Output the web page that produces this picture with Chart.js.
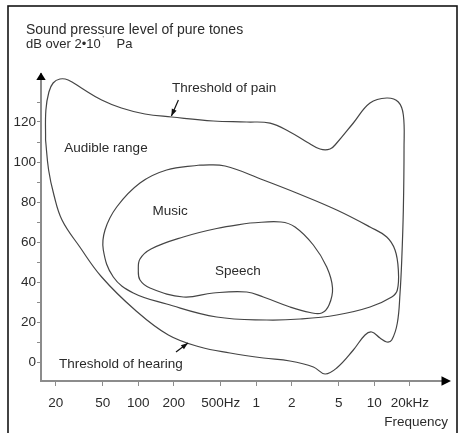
<!DOCTYPE html>
<html>
<head>
<meta charset="utf-8">
<script src="https://cdn.jsdelivr.net/npm/chart.js@4.4.0/dist/chart.umd.min.js"></script>
<style>
  html, body { margin: 0; padding: 0; background: #fff; }
  #wrap { position: relative; width: 462px; height: 433px; }
</style>
</head>
<body>
<div id="wrap"><canvas id="chart"></canvas></div>
<script>
// frequency axis (Hz) and its labels
let freqTicks = [20, 50, 100, 200, 500, 1000, 2000, 5000, 10000, 20000];
let freqLabels = ['20', '50', '100', '200', '500Hz', '1', '2', '5', '10', '20kHz'];
// level axis (dB), every 10 with a label every 20
let levelTicks = [0, 10, 20, 30, 40, 50, 60, 70, 80, 90, 100, 110, 120, 130];

// audible range: threshold of pain on top, threshold of hearing underneath
let audibleHz = [16.4, 16.5, 17.5, 19.0, 21.7, 25.5, 33, 49, 72, 114, 192, 433, 830, 1310, 1930, 2680, 3470, 4220, 4810, 6650, 9200, 12760, 16000, 17640, 17880, 17640, 17100, 16540, 15690, 14070, 12760, 11190, 9520, 8350, 6650, 4810, 3830, 3050, 1930, 1150, 600, 334, 180, 94, 49, 32, 22.6, 19.3, 17.4];
let audibleDb = [111, 126, 135, 139.5, 141.5, 141, 137, 131, 127, 124, 122.5, 120.5, 120, 119.4, 115, 110, 106.5, 106.5, 109.5, 119.5, 129.5, 132, 130, 123.5, 107, 76, 51, 34.5, 19.5, 11, 10, 12, 15, 13.5, 6, -3, -6, -2.5, 0.5, 2, 4.5, 7.5, 13.5, 26, 42.5, 57.5, 71, 83.5, 96];

let musicHz = [334, 544, 1148, 2200, 4810, 9210, 12760, 15000, 16000, 15690, 14070, 9210, 4810, 2350, 1230, 462, 174, 90.8, 61.5, 50.6, 52.3, 65.7, 103.5, 174];
let musicDb = [98.5, 98, 91, 84.5, 76, 67.5, 62.5, 56, 46, 36, 32.5, 27.5, 23.5, 21.5, 21, 22.5, 29, 34.5, 42.5, 56, 66, 77.5, 89.5, 96];

let speechHz = [886, 1622, 2132, 3046, 3957, 4430, 4138, 3588, 2856, 1933, 1148, 831, 433, 241, 125.8, 103.5, 100.2, 103.5, 128.3, 241, 462];
let speechDb = [69.5, 70, 67.5, 58.5, 47.5, 37, 28.5, 24.5, 24.75, 27.5, 32.5, 35, 34.5, 32.5, 37, 41, 46, 51.5, 56.5, 62.5, 66.75];

// text placed inside the plot, in axis units
let areaNames = ['Audible range', 'Music', 'Speech'];
let areaHz = [53.3, 186, 700];
let areaDb = [107, 75.5, 45.5];

const FONT = '"Liberation Sans", Arial, sans-serif';
const INK = '#2b2b2b';
const AXIS = '#8c8c8c';

function loop(hz, db) {
    let pts = hz.map((f, i) => ({x: f, y: db[i]}));
    pts.push(pts[0]); // close the outline
    return pts;
}

function arrow(ctx, x1, y1, x2, y2, len, half) {
    ctx.beginPath();
    ctx.moveTo(x1, y1);
    ctx.lineTo(x2, y2);
    ctx.stroke();
    let a = Math.atan2(y2 - y1, x2 - x1);
    let c = Math.cos(a), s = Math.sin(a);
    ctx.beginPath();
    ctx.moveTo(x2, y2);
    ctx.lineTo(x2 - len * c + half * s, y2 - len * s - half * c);
    ctx.lineTo(x2 - len * c - half * s, y2 - len * s + half * c);
    ctx.closePath();
    ctx.fill();
}

// frame, axis arrows and all the labels
const decor = {
    id: 'decor',
    afterDraw(chart) {
        let ctx = chart.ctx;
        let area = chart.chartArea;
        let xs = chart.scales.x, ys = chart.scales.y;
        ctx.save();

        ctx.strokeStyle = '#151515';
        ctx.lineWidth = 1.6;
        ctx.strokeRect(8, 6, 449, 460);

        // axis arrow heads
        ctx.fillStyle = '#000';
        ctx.beginPath();
        ctx.moveTo(area.left, area.top - 1.5);
        ctx.lineTo(area.left - 4.7, area.top + 6);
        ctx.lineTo(area.left + 4.7, area.top + 6);
        ctx.closePath();
        ctx.fill();
        ctx.beginPath();
        ctx.moveTo(area.right + 7, area.bottom);
        ctx.lineTo(area.right - 2.5, area.bottom - 4.7);
        ctx.lineTo(area.right - 2.5, area.bottom + 4.7);
        ctx.closePath();
        ctx.fill();

        // axis title, two lines
        ctx.fillStyle = INK;
        ctx.textBaseline = 'alphabetic';
        ctx.textAlign = 'left';
        ctx.font = '14px ' + FONT;
        ctx.fillText('Sound pressure level of pure tones', 26, 33.5);
        ctx.font = '13px ' + FONT;
        ctx.fillText('dB over 2•10', 26, 47.5);
        ctx.fillText('Pa', 116.5, 47.5);
        ctx.font = '7px ' + FONT;
        ctx.fillText("'", 102.5, 41);

        ctx.textBaseline = 'middle';
        ctx.font = '13.5px ' + FONT;
        ctx.textAlign = 'right';
        ctx.fillText('Frequency', 448, 422);

        ctx.textAlign = 'center';
        areaNames.forEach((t, i) => {
            ctx.fillText(t, xs.getPixelForValue(areaHz[i]), ys.getPixelForValue(areaDb[i]));
        });
        ctx.textAlign = 'left';
        ctx.fillText('Threshold of pain', xs.getPixelForValue(193), ys.getPixelForValue(137));
        ctx.fillText('Threshold of hearing', xs.getPixelForValue(21.3), ys.getPixelForValue(-1));

        // pointers to the two thresholds
        ctx.strokeStyle = '#111';
        ctx.fillStyle = '#111';
        ctx.lineWidth = 1.2;
        arrow(ctx, xs.getPixelForValue(219), ys.getPixelForValue(131),
                   xs.getPixelForValue(191), ys.getPixelForValue(123), 7, 2.6);
        arrow(ctx, xs.getPixelForValue(209), ys.getPixelForValue(5),
                   xs.getPixelForValue(264), ys.getPixelForValue(9.5), 7, 2.6);
        ctx.restore();
    }
};

function outline(label, pts) {
    return {
        label: label,
        data: pts,
        borderColor: '#454545',
        borderWidth: 1.2,
        pointRadius: 0,
        tension: 0.4,
        fill: false,
    };
}

new Chart(document.getElementById('chart'), {
    type: 'scatter',
    data: {
        datasets: [
            outline('Audible range', loop(audibleHz, audibleDb)),
            outline('Music', loop(musicHz, musicDb)),
            outline('Speech', loop(speechHz, speechDb)),
        ]
    },
    options: {
        responsive: true,
        maintainAspectRatio: false,
        animation: false,
        showLine: true,
        layout: { padding: { left: 0, right: 18, top: 74, bottom: 0 } },
        plugins: { legend: { display: false }, tooltip: { enabled: false } },
        scales: {
            x: {
                type: 'logarithmic',
                min: 15,
                max: 39000,
                afterBuildTicks: s => { s.ticks = freqTicks.map(v => ({value: v})); },
                afterFit: s => { s.height = 52; },
                grid: { drawOnChartArea: false, tickLength: 5, color: AXIS },
                border: { color: AXIS, width: 2 },
                ticks: {
                    autoSkip: false,
                    maxRotation: 0,
                    padding: 9,
                    color: INK,
                    font: { family: FONT, size: 13.5 },
                    callback: (v, i) => freqLabels[i],
                },
            },
            y: {
                min: -9.5,
                max: 144,
                afterBuildTicks: s => { s.ticks = levelTicks.map(v => ({value: v})); },
                afterFit: s => { s.width = 41; },
                grid: { drawOnChartArea: false, tickLength: 4, color: AXIS },
                border: { color: AXIS, width: 2 },
                ticks: {
                    padding: 1,
                    color: INK,
                    font: { family: FONT, size: 13.5 },
                    callback: v => (v % 20 === 0 && v <= 120 ? String(v) : ''),
                },
            },
        },
    },
    plugins: [decor],
});
</script>
</body>
</html>
